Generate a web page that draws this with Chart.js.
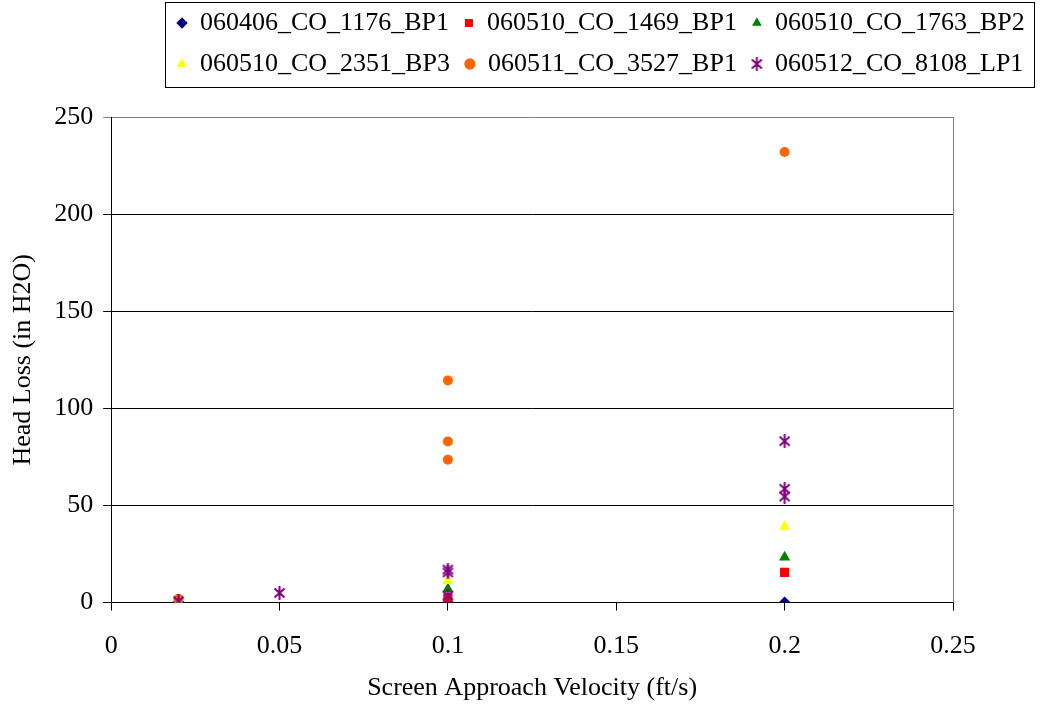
<!DOCTYPE html>
<html>
<head>
<meta charset="utf-8">
<script src="https://cdn.jsdelivr.net/npm/chart.js@4/dist/chart.umd.min.js"></script>
<style>
  body { margin: 0; background: #fff; }
  #wrap { width: 1043px; height: 706px; }
</style>
</head>
<body>
<div id="wrap"><canvas id="chart" width="1043" height="706"></canvas></div>
<script>
// sample names (legend)
var sampleNames = ['060406_CO_1176_BP1', '060510_CO_1469_BP1', '060510_CO_1763_BP2',
                   '060510_CO_2351_BP3', '060511_CO_3527_BP1', '060512_CO_8108_LP1'];

// velocity (ft/s) and head loss (in H2O), one pair of arrays per sample
var vel1176 = [0.02, 0.1, 0.2];
var loss1176 = [0.5, 0.3, 0.3];
var vel1469 = [0.02, 0.1, 0.2];
var loss1469 = [1, 2.4, 15.6];
var vel1763 = [0.02, 0.1, 0.2];
var loss1763 = [1, 7, 23.4];
var vel2351 = [0.02, 0.1, 0.2];
var loss2351 = [0.3, 11.3, 39.2];
var vel3527 = [0.02, 0.1, 0.1, 0.1, 0.2];
var loss3527 = [2, 114.4, 83, 73.6, 232];
var vel8108 = [0.02, 0.05, 0.1, 0.1, 0.1, 0.2, 0.2, 0.2];
var loss8108 = [0.7, 5, 17, 15.5, 3.6, 83.1, 58.6, 54.6];

var xTickLabels = ['0', '0.05', '0.1', '0.15', '0.2', '0.25'];
var yTickLabels = ['0', '50', '100', '150', '200', '250'];

var FONT = '"Liberation Serif", "Times New Roman", serif';

// excel style star marker: an X with a vertical bar
function makeStar(color) {
    var c = document.createElement('canvas');
    c.width = 13; c.height = 14;
    var g = c.getContext('2d');
    g.strokeStyle = color;
    g.lineWidth = 2;
    g.beginPath();
    g.moveTo(1.5, 2.5); g.lineTo(11.5, 11.5);
    g.moveTo(11.5, 2.5); g.lineTo(1.5, 11.5);
    g.moveTo(6.5, 0); g.lineTo(6.5, 14);
    g.stroke();
    return c;
}

function pts(xs, ys) {
    return xs.map(function (x, i) { return {x: x, y: ys[i]}; });
}

var styles = [
    {color: '#000080', shape: 'rectRot', r: 5.5},
    {color: '#FF0000', shape: 'rect', r: 6.5},
    {color: '#008000', shape: 'triangle', r: 6.5},
    {color: '#FFFF00', shape: 'triangle', r: 6.5},
    {color: '#FF6600', shape: 'circle', r: 5},
    {color: '#800080', shape: makeStar('#800080'), r: 7}
];
var allX = [vel1176, vel1469, vel1763, vel2351, vel3527, vel8108];
var allY = [loss1176, loss1469, loss1763, loss2351, loss3527, loss8108];

var datasets = sampleNames.map(function (name, i) {
    return {
        label: name,
        data: pts(allX[i], allY[i]),
        order: sampleNames.length - i, // later series drawn on top, like excel
        pointStyle: styles[i].shape,
        pointRadius: styles[i].r,
        pointHoverRadius: styles[i].r,
        backgroundColor: styles[i].color,
        borderColor: styles[i].color,
        pointBorderWidth: 0,
        showLine: false
    };
});

// move the legend into its box at the top right and frame it
var legendBox = {
    id: 'legendBox',
    afterLayout: function (chart) {
        var lg = chart.legend;
        lg.left = 162;
        lg.right = 1075;
        lg.top = -5;
    },
    afterDraw: function (chart) {
        var lg = chart.legend, hb = lg.legendHitBoxes;
        var x0 = 1e9, x1 = -1e9, y0 = 1e9, y1 = -1e9;
        hb.forEach(function (b) {
            x0 = Math.min(x0, b.left); x1 = Math.max(x1, b.left + b.width);
            y0 = Math.min(y0, b.top); y1 = Math.max(y1, b.top + b.height);
        });
        var ctx = chart.ctx;
        ctx.save();
        ctx.strokeStyle = '#000';
        ctx.lineWidth = 1;
        ctx.strokeRect(Math.round(x0 - 12) + 0.5, Math.round(y0 - 8) + 0.5,
                       Math.round(x1 - x0 + 21), Math.round(y1 - y0 + 18));
        // plot frame, right side
        var a = chart.chartArea;
        ctx.strokeStyle = '#808080';
        ctx.beginPath();
        ctx.moveTo(Math.round(a.right) + 0.5, a.top);
        ctx.lineTo(Math.round(a.right) + 0.5, a.bottom);
        ctx.stroke();
        ctx.restore();
    }
};

var config = {
    type: 'scatter',
    data: {datasets: datasets},
    options: {
        responsive: false,
        animation: false,
        devicePixelRatio: 1,
        layout: {padding: {left: 8, right: 90, top: 25, bottom: 2}},
        plugins: {
            legend: {
                position: 'top',
                align: 'start',
                labels: {
                    usePointStyle: true,
                    boxWidth: 10,
                    boxHeight: 8,
                    padding: 15,
                    color: '#000',
                    font: {family: FONT, size: 26},
                    sort: function (a, b) { return a.datasetIndex - b.datasetIndex; }
                }
            },
            tooltip: {enabled: false}
        },
        scales: {
            x: {
                type: 'linear',
                min: 0, max: 0.25,
                ticks: {
                    stepSize: 0.05,
                    color: '#000',
                    padding: 20,
                    font: {family: FONT, size: 26},
                    callback: function (v, i) { return xTickLabels[i]; }
                },
                grid: {drawOnChartArea: false, drawTicks: true, tickLength: 8, color: '#000'},
                border: {color: '#000', width: 1},
                title: {display: true, text: 'Screen Approach Velocity (ft/s)', color: '#000',
                        font: {family: FONT, size: 26}, padding: {top: -9, bottom: 0}}
            },
            y: {
                min: 0, max: 250,
                ticks: {
                    stepSize: 50,
                    color: '#000',
                    padding: 10,
                    font: {family: FONT, size: 26},
                    callback: function (v, i) { return yTickLabels[i]; }
                },
                grid: {
                    tickLength: 8,
                    color: function (c) { return c.tick && c.tick.value === 250 ? '#808080' : '#000'; }
                },
                border: {color: '#000', width: 1},
                title: {display: true, text: 'Head Loss (in H2O)', color: '#000',
                        font: {family: FONT, size: 26}, padding: {top: 0, bottom: 5}}
            }
        }
    },
    plugins: [legendBox]
};

var ctx = document.getElementById('chart');
window.myChart = new Chart(ctx, config);
</script>
</body>
</html>
